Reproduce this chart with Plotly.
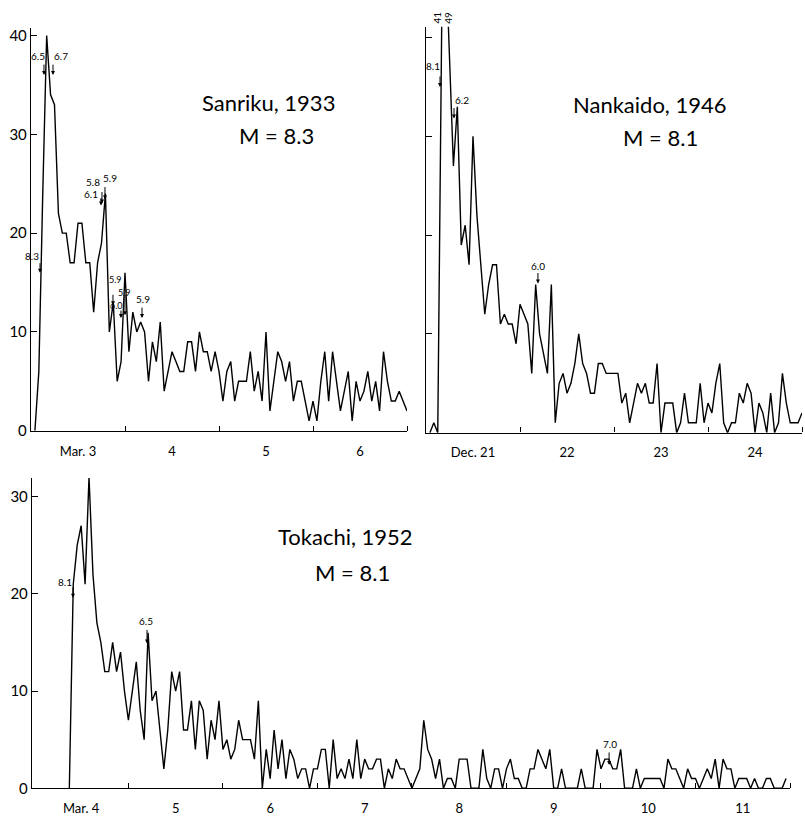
import plotly.graph_objects as go

# ---------------- data: hourly aftershock counts ----------------
# Sanriku 1933 — first value is the hour ending 01:00, Mar 3
sanriku_day0 = 3
sanriku_first_hour = 1
sanriku_counts = [0, 6, 24, 40, 34, 33, 22, 20, 20, 17, 17, 21, 21, 17, 17, 12, 17, 19, 24, 10,
                  13, 5, 7, 16, 8, 12, 10, 11, 10, 5, 9, 7, 11, 4, 6, 8, 7, 6, 6, 9,
                  9, 6, 10, 8, 8, 6, 8, 6, 3, 6, 7, 3, 5, 5, 5, 8, 4, 6, 3, 10,
                  2, 5, 8, 7, 5, 7, 3, 5, 5, 3, 1, 3, 1, 5, 8, 3, 8, 5, 2, 4,
                  6, 1, 5, 3, 4, 6, 3, 5, 2, 8, 5, 3, 3, 4, 3, 2]

# Nankaido 1946 — first value is hour 1 of Dec 21
nankaido_day0 = 21
nankaido_first_hour = 1
nankaido_counts = [0, 1, 0, 41, 49, 38, 27, 33, 19, 21, 17, 30, 22, 17, 12, 15, 17, 17, 11, 12,
                   11, 11, 9, 13, 12, 11, 6, 15, 10, 8, 6, 15, 1, 5, 6, 4, 5, 7, 10, 7,
                   6, 4, 4, 7, 7, 6, 6, 6, 6, 3, 4, 1, 3, 5, 4, 5, 3, 3, 7, 0,
                   3, 3, 3, 0, 1, 4, 1, 1, 1, 5, 1, 3, 2, 5, 7, 1, 0, 1, 1, 4,
                   3, 5, 4, 0, 3, 2, 0, 4, 0, 1, 6, 3, 1, 1, 1, 2]

# Tokachi 1952 — first value is hour 9 of Mar 4
tokachi_day0 = 4
tokachi_first_hour = 9
tokachi_counts = [0, 21, 25, 27, 21, 32, 22, 17, 15, 12, 12, 15, 12, 14, 10, 7, 10, 13, 8, 5,
                  16, 9, 10, 6, 2, 6, 12, 10, 12, 6, 6, 9, 4, 9, 8, 3, 7, 5, 9, 4,
                  5, 3, 4, 7, 5, 5, 5, 3, 9, 0, 4, 1, 6, 2, 5, 1, 4, 3, 1, 2,
                  2, 0, 2, 2, 4, 4, 0, 5, 1, 2, 1, 3, 1, 5, 1, 3, 2, 2, 3, 3,
                  0, 2, 1, 3, 2, 2, 1, 0, 1, 2, 7, 4, 3, 1, 3, 0, 1, 1, 0, 3,
                  3, 3, 0, 0, 0, 4, 1, 0, 2, 2, 0, 2, 3, 1, 1, 0, 0, 2, 2, 4,
                  3, 2, 4, 0, 0, 2, 0, 0, 0, 0, 2, 0, 0, 0, 4, 2, 3, 3, 2, 2,
                  4, 0, 0, 0, 2, 0, 1, 1, 1, 1, 1, 0, 3, 2, 2, 1, 0, 2, 1, 1,
                  0, 1, 2, 1, 3, 0, 3, 2, 2, 0, 1, 1, 1, 0, 1, 0, 0, 1, 1, 0,
                  0, 0, 1]

# day labels
sanriku_day_labels = ["Mar. 3", "4", "5", "6"]
nankaido_day_labels = ["Dec. 21", "22", "23", "24"]
tokachi_day_labels = ["Mar. 4", "5", "6", "7", "8", "9", "10", "11"]

# magnitude marks: time (days), count at arrow tip, magnitude text
sanriku_mag_t = [3.096, 3.138, 3.234, 3.755, 3.787, 3.745, 3.872, 4.0, 3.957, 4.181]
sanriku_mag_v = [16, 36, 36, 23, 23.4, 22.8, 12.7, 11.7, 11.4, 11.4]
sanriku_mag_text = ["8.3", "6.5", "6.7", "5.8", "5.9", "6.1", "5.9", "5.9", "6.0", "5.9"]

nankaido_mag_t = [21.149, 21.298, 22.191]
nankaido_mag_v = [35, 31.8, 15.1]
nankaido_mag_text = ["8.1", "6.2", "6.0"]

nankaido_offscale_t = [21.115, 21.235]
nankaido_offscale_text = ["41", "49"]

tokachi_mag_t = [4.414, 5.197, 10.086]
tokachi_mag_v = [19.6, 14.9, 2.4]
tokachi_mag_text = ["8.1", "6.5", "7.0"]

# ---------------- layout helpers ----------------
W, H = 805, 820
FONT = "Lato, 'DejaVu Sans', sans-serif"


def times(day0, first_hour, counts):
    return [day0 + (first_hour + i) / 24.0 for i in range(len(counts))]


def px_x(p):
    return p / W


def px_y(p):
    return 1 - p / H


fig = go.Figure()

panels = [
    dict(ax="", day0=sanriku_day0, fh=sanriku_first_hour, counts=sanriku_counts),
    dict(ax="2", day0=nankaido_day0, fh=nankaido_first_hour, counts=nankaido_counts),
    dict(ax="3", day0=tokachi_day0, fh=tokachi_first_hour, counts=tokachi_counts),
]
for p in panels:
    fig.add_trace(go.Scatter(
        x=times(p["day0"], p["fh"], p["counts"]), y=p["counts"],
        mode="lines", line=dict(color="black", width=1.4),
        xaxis="x" + p["ax"], yaxis="y" + p["ax"], showlegend=False, hoverinfo="skip"))

axis_common = dict(showline=True, linecolor="black", linewidth=1.4, showgrid=False,
                   zeroline=False, fixedrange=True)


def xaxis(day0, labels, dom, rng, anchor):
    n = len(labels)
    return dict(axis_common, domain=dom, range=rng, anchor=anchor,
                tickmode="array",
                tickvals=[day0 + i + 0.5 for i in range(n)],
                ticktext=labels, ticks="", ticklabelstandoff=8,
                tickfont=dict(family=FONT, size=13, color="black"),
                minor=dict(tickmode="array",
                           tickvals=[day0 + i for i in range(1, n + 1)],
                           ticks="inside", ticklen=5, tickwidth=1, tickcolor="black"))


def yaxis(dom, rng, anchor, vals, show_labels):
    return dict(axis_common, domain=dom, range=rng, anchor=anchor,
                tickmode="array", tickvals=vals,
                ticktext=[str(v) for v in vals] if show_labels else ["" for v in vals],
                ticks="inside", ticklen=6, tickwidth=1, tickcolor="black",
                tickfont=dict(family=FONT, size=15, color="black"))


fig.update_layout(
    width=W, height=H, margin=dict(l=0, r=0, t=0, b=0),
    paper_bgcolor="white", plot_bgcolor="white",
    font=dict(family=FONT, color="black"),
    xaxis=xaxis(3, sanriku_day_labels, [px_x(31), px_x(407)], [3.0, 7.0], "y"),
    yaxis=yaxis([px_y(434), px_y(26)], [0, 40.8], "x", [0, 10, 20, 30, 40], True),
    xaxis2=xaxis(21, nankaido_day_labels, [px_x(426), px_x(802)], [21.0, 25.0], "y2"),
    yaxis2=yaxis([px_y(436), px_y(25)], [0, 41.1], "x2", [10, 20, 30, 40], False),
    xaxis3=xaxis(4, tokachi_day_labels, [px_x(32), px_x(790)], [3.98, 12.0], "y3"),
    yaxis3=yaxis([px_y(796), px_y(482)], [0, 31.9], "x3", [0, 10, 20, 30], True),
)

# titles
titles = [
    ("Sanriku, 1933", 268, 102), ("M = 8.3", 276, 135),
    ("Nankaido, 1946", 650, 104), ("M = 8.1", 660, 137),
    ("Tokachi, 1952", 345, 541), ("M = 8.1", 352, 578),
]
for txt, x, y in titles:
    fig.add_annotation(x=px_x(x), y=px_y(y), xref="paper", yref="paper", text=txt,
                       showarrow=False, font=dict(family=FONT, size=22, color="black"),
                       xanchor="center", yanchor="middle")

# magnitude arrows: (arrow length px, text dx px, text dy px, font size)
sanriku_style = [(11, -8, 17, 10), (12, -6, 19, 10), (12, 8, 19, 10), (13, -9, 22, 10),
                 (14, 5, 22, 10), (9, -10, 11, 10), (12, 3, 26, 9), (22, -1, 23, 9),
                 (9, -4, 13, 9), (12, 1, 19, 10)]
nankaido_style = [(12, -7, 21, 10), (12, 8, 19, 10), (12, 0, 18, 10)]
tokachi_style = [(12, -8, 16, 10), (15, -1, 22, 10), (14, 1, 21, 10)]


def add_marks(xr, yr, ts, vs, texts, styles):
    for t, v, txt, (L, dx, dy, fs) in zip(ts, vs, texts, styles):
        fig.add_annotation(x=t, y=v, xref=xr, yref=yr, text="", showarrow=True,
                           ax=0, ay=-L, arrowhead=2, arrowsize=0.8, arrowwidth=1,
                           arrowcolor="black")
        fig.add_annotation(x=t, y=v, xref=xr, yref=yr, text=txt, showarrow=False,
                           xshift=dx, yshift=dy,
                           font=dict(family=FONT, size=fs, color="black"))


add_marks("x", "y", sanriku_mag_t, sanriku_mag_v, sanriku_mag_text, sanriku_style)
add_marks("x2", "y2", nankaido_mag_t, nankaido_mag_v, nankaido_mag_text, nankaido_style)
add_marks("x3", "y3", tokachi_mag_t, tokachi_mag_v, tokachi_mag_text, tokachi_style)

for t, txt in zip(nankaido_offscale_t, nankaido_offscale_text):
    fig.add_annotation(x=t, y=41.1, xref="x2", yref="y2", text=txt, showarrow=False,
                       textangle=-90, yanchor="bottom", yshift=1,
                       font=dict(family=FONT, size=10, color="black"))

fig.write_html("out.html")
